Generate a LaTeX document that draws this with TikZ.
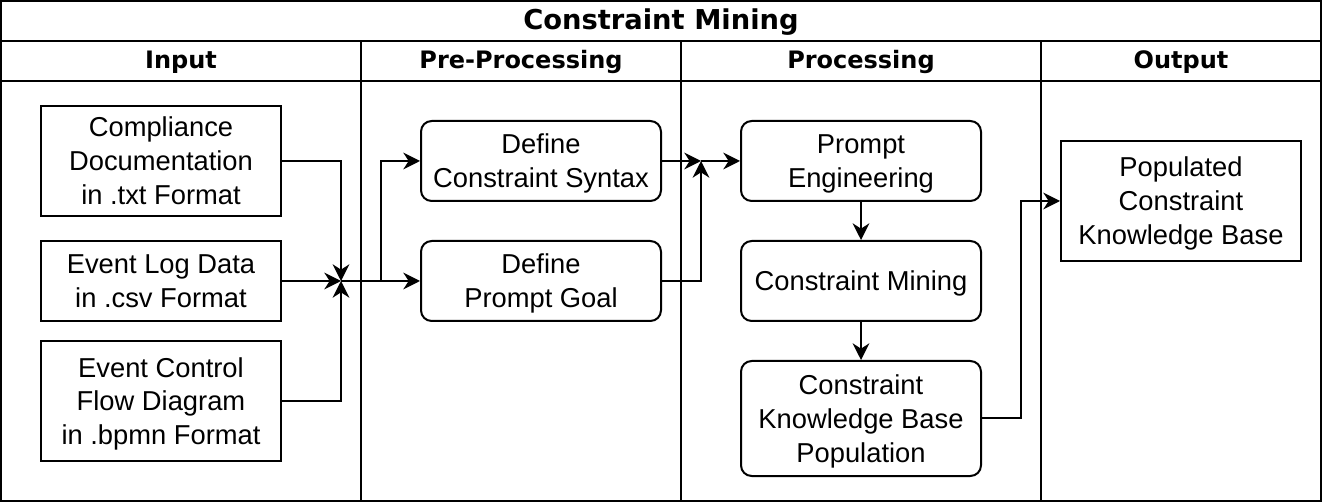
\documentclass[tikz,border=0pt]{standalone}
\usepackage{fontspec}
\setmainfont{Liberation Sans}
\newfontfamily\hdfont{DejaVu Sans}
\usetikzlibrary{arrows.meta}
\newcommand\tS{\rule{0pt}{20pt}}
\newcommand\bS{\rule[-5pt]{0pt}{5pt}}
\begin{document}
\begin{tikzpicture}[x=0.75pt,y=-0.75pt,line width=1.5pt,
  box/.style={draw,line width=1.5pt,minimum width=180pt,align=center,inner sep=0pt,
    font=\fontsize{20.5}{25.5}\selectfont},
  rbox/.style={box,rounded corners=8pt},
  hdr/.style={font=\hdfont\bfseries\fontsize{18}{21}\selectfont},
  ttl/.style={font=\hdfont\bfseries\fontsize{20.5}{24}\selectfont},
  arr/.style={-{Stealth[length=12.5pt,width=12.5pt,inset=4pt]}}]
\useasboundingbox (0,0) rectangle (1322,502);
% frame
\draw (1,1) rectangle (1321,501);
\draw (1,41) -- (1321,41);
\draw (1,81) -- (1321,81);
\draw (361,41) -- (361,501);
\draw (681,41) -- (681,501);
\draw (1041,41) -- (1041,501);
\node[ttl] (title) at (661,22) {Constraint Mining};
\node[hdr] (h1) at (181,62) {Input};
\node[hdr] (h2) at (521,62) {Pre-Processing};
\node[hdr] (h3) at (861,62) {Processing};
\node[hdr] (h4) at (1181,62) {Output};
% input
\node[box,minimum height=82.5pt] (b1) at (161,161) {\tS Compliance\\Documentation\\in .txt Format\bS};
\node[box,minimum height=60pt] (b2) at (161,281) {\tS Event Log Data\\in .csv Format\bS};
\node[box,minimum height=90pt] (b3) at (161,401) {\tS Event Control\\Flow Diagram\\in .bpmn Format\bS};
% pre-processing
\node[rbox,minimum height=60pt] (d1) at (541,161) {\tS Define\\Constraint Syntax\bS};
\node[rbox,minimum height=60pt] (d2) at (541,281) {\tS Define\\Prompt Goal\bS};
% processing
\node[rbox,minimum height=60pt] (p1) at (861,161) {\tS Prompt\\Engineering\bS};
\node[rbox,minimum height=60pt] (p2) at (861,281) {\tS Constraint Mining\bS};
\node[rbox,minimum height=86.25pt] (p3) at (861,418.5) {\tS Constraint\\Knowledge Base\\Population\bS};
% output
\node[box,minimum height=90pt] (o1) at (1181,201) {\tS Populated\\Constraint\\Knowledge Base\bS};
% junctions
\coordinate (J1) at (341,281);
\coordinate (J1b) at (381,281);
\coordinate (J2) at (701,161);
\coordinate (K) at (1021,418.5);
% connectors
\draw[arr] (b1.east) -| (J1);
\draw[arr] (b2.east) -- (J1);
\draw[arr] (b3.east) -| (J1);
\draw[arr] (J1) -- (d2.west);
\draw[arr] (J1b) |- (d1.west);
\draw[arr] (d1.east) -- (J2);
\draw[arr] (d2.east) -| (J2);
\draw[arr] (J2) -- (p1.west);
\draw[arr] (p1) -- (p2);
\draw[arr] (p2) -- (p3);
\draw[arr] (p3.east) -- (K) |- (o1.west);
\end{tikzpicture}
\end{document}
